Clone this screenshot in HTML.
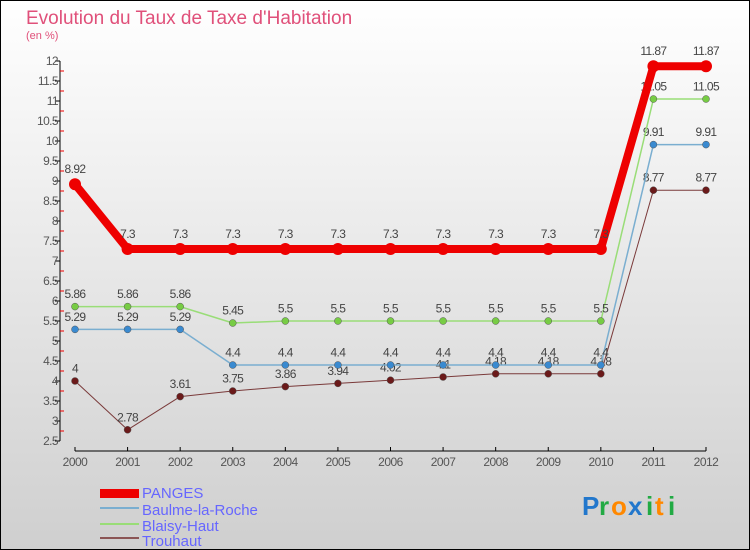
<!DOCTYPE html>
<html><head><meta charset="utf-8"><style>
body{margin:0;}
#c{width:750px;height:550px;position:relative;overflow:hidden;}
svg text{font-family:"Liberation Sans",sans-serif;}
</style></head><body>
<div id="c">
<svg id="s" width="750" height="550" xmlns="http://www.w3.org/2000/svg">
<defs><linearGradient id="bg" x1="0" y1="0" x2="0" y2="1"><stop offset="0" stop-color="#ffffff"/><stop offset="1" stop-color="#cfcfcf"/></linearGradient></defs>
<rect x="0.5" y="0.5" width="749" height="549" fill="url(#bg)" stroke="#000"/>
<text x="26" y="24" font-size="19" fill="#e0507a">Evolution du Taux de Taxe d'Habitation</text>
<text x="26" y="39" font-size="11" fill="#e0507a">(en %)</text>
<g id="axes"></g><g id="series"></g>
<g>
<rect x="100" y="489" width="39" height="9" fill="#ee0000"/>
<text x="142" y="498" font-size="15" fill="#6666ff">PANGES</text>
<line x1="100" y1="508" x2="139" y2="508" stroke="#7aaed0" stroke-width="2"/>
<text x="142" y="515" font-size="15" fill="#6666ff">Baulme-la-Roche</text>
<line x1="100" y1="524" x2="139" y2="524" stroke="#99dd77" stroke-width="2"/>
<text x="142" y="531" font-size="15" fill="#6666ff">Blaisy-Haut</text>
<line x1="100" y1="538" x2="139" y2="538" stroke="#8b5555" stroke-width="2"/>
<text x="142" y="546" font-size="15" fill="#6666ff">Trouhaut</text>
</g>
<g font-size="26" font-weight="bold">
<text x="582" y="515" fill="#2277cc">P</text><text x="599" y="515" fill="#22aa44">r</text><text x="611" y="515" fill="#ff8800">o</text><text x="628" y="515" fill="#2277cc">x</text><text x="646" y="515" fill="#22aa44">i</text><text x="655" y="515" fill="#ff8800">t</text><text x="668" y="515" fill="#22aa44">i</text>
</g>
</svg></div>
<script>
const years=[2000,2001,2002,2003,2004,2005,2006,2007,2008,2009,2010,2011,2012];
const panges=[8.92,7.3,7.3,7.3,7.3,7.3,7.3,7.3,7.3,7.3,7.3,11.87,11.87];
const baulme=[5.29,5.29,5.29,4.4,4.4,4.4,4.4,4.4,4.4,4.4,4.4,9.91,9.91];
const blaisy=[5.86,5.86,5.86,5.45,5.5,5.5,5.5,5.5,5.5,5.5,5.5,11.05,11.05];
const trouhaut=[4,2.78,3.61,3.75,3.86,3.94,4.02,4.1,4.18,4.18,4.18,8.77,8.77];
const yTicks=[2.5,3,3.5,4,4.5,5,5.5,6,6.5,7,7.5,8,8.5,9,9.5,10,10.5,11,11.5,12];
const NS="http://www.w3.org/2000/svg";
function x(i){return 75+i*(706-75)/(years.length-1);}
function y(v){return 61+(12-v)*40;}
function mk(p,t,a){const e=document.createElementNS(NS,t);for(const k in a)e.setAttribute(k,a[k]);p.appendChild(e);return e;}
const ax=document.getElementById('axes'),sg=document.getElementById('series');
mk(ax,'line',{x1:60,y1:y(12),x2:60,y2:y(2.5),stroke:'#000'});
yTicks.forEach(v=>{mk(ax,'line',{x1:55,y1:y(v),x2:60,y2:y(v),stroke:'#000'});
 mk(ax,'line',{x1:60,y1:y(v+0.25),x2:64,y2:y(v+0.25),stroke:'#ee0000'}).style.display=v<12?'':'none';
 const t=mk(ax,'text',{x:58,y:y(v)+4,'font-size':12,fill:'#555','text-anchor':'end','letter-spacing':'-0.6'});t.textContent=String(v);
 });
mk(ax,'line',{x1:x(0),y1:451,x2:x(12),y2:451,stroke:'#000'});
years.forEach((yr,i)=>{mk(ax,'line',{x1:x(i),y1:447,x2:x(i),y2:451,stroke:'#000'});
 const t=mk(ax,'text',{x:x(i),y:466,'font-size':12,fill:'#555','text-anchor':'middle','letter-spacing':'-0.5'});t.textContent=yr;
 });
function series(vals,color,dot,w,r,name){
 const g=mk(sg,'g',{});
 mk(g,'polyline',{points:vals.map((v,i)=>x(i)+','+y(v)).join(' '),fill:'none',stroke:color,'stroke-width':w,'stroke-linejoin':'round'});
 vals.forEach((v,i)=>{const c=mk(g,'circle',{cx:x(i),cy:y(v),r:r,fill:dot,stroke:w>3?'none':'#555','stroke-width':0.5});
  
  const t=mk(g,'text',{x:x(i),y:y(v)-(r+5),'font-size':12,fill:'#444','text-anchor':'middle','letter-spacing':'-0.6'});t.textContent=String(v);});
}
series(trouhaut,'#7a3a3a','#6b1a1a',1,3.5,'series-trouhaut');
series(baulme,'#7aaed0','#3a8ad0',1.5,3.5,'series-baulme');
series(blaisy,'#99dd77','#77cc44',1.5,3.5,'series-blaisy');
series(panges,'#ee0000','#ee0000',8,6,'series-panges');
</script>
</body></html>
